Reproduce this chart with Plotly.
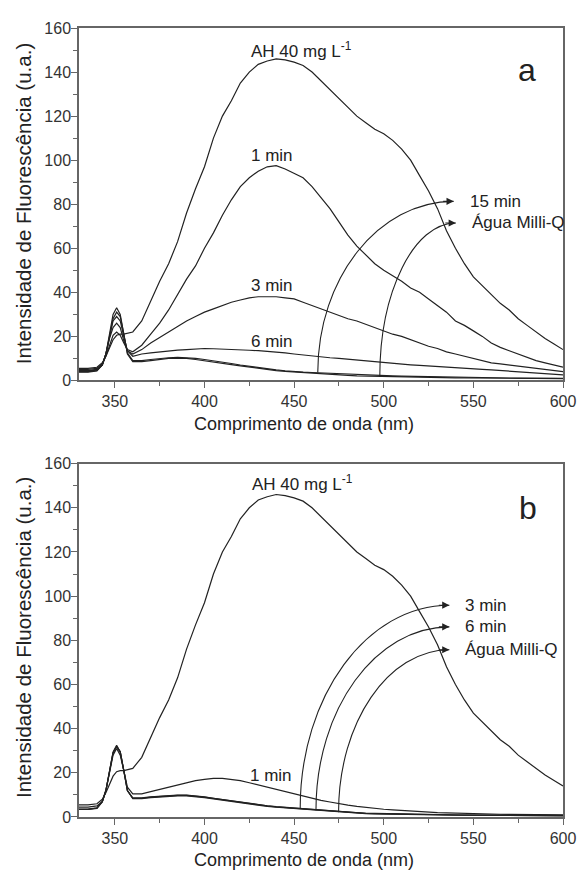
import plotly.graph_objects as go
from plotly.subplots import make_subplots

# ---------------- data ----------------
wavelength = [330, 335, 340, 343, 345, 347, 349, 351, 353, 355, 357, 360,
              365, 370, 375, 380, 385, 390, 395, 400, 405, 410, 415, 420, 425,
              430, 435, 440, 445, 450, 455, 460, 465, 470, 475, 480, 485, 490,
              495, 500, 505, 510, 515, 520, 525, 530, 535, 540, 545, 550, 555,
              560, 565, 570, 575, 580, 585, 590, 595, 600]

ah_40 = [5.5, 5.5, 6, 8, 11, 15, 18.5, 20.5, 21, 21, 21.5, 22,
         27, 36, 45, 53, 63, 76, 87, 97, 110, 120, 127, 135, 140,
         143.5, 145, 146, 145.5, 144.5, 143, 140, 136, 132, 128, 124, 120, 117,
         114, 112, 109, 105, 100, 93, 86, 78, 68, 60, 53, 47, 43,
         39, 35, 32, 28, 25, 22, 19, 16.5, 14]

a_1min = [5, 5, 5.5, 7.5, 11, 16, 20.5, 22, 20.5, 17, 14, 13,
          16, 21, 26, 32, 39, 46, 52, 60, 67, 75, 82, 88, 92,
          95, 97, 97.5, 96, 94, 92, 88, 83, 78, 72, 66, 61, 57,
          53, 50, 47.5, 45, 42, 40, 37, 34, 31, 27, 25, 22.5, 20,
          17, 15, 13.5, 12, 10.5, 9, 8, 7, 6]

a_3min = [4.5, 4.5, 5, 7, 12, 19, 24, 26, 24, 18, 13.5, 12,
          14, 17, 19.5, 22, 24.5, 27, 29, 31, 32.5, 34, 35.5, 36.5, 37.5,
          38, 38, 38, 37.5, 37, 35.5, 34, 32.5, 31, 29.5, 28, 27, 25.5,
          24, 22.5, 21, 20, 18.5, 17, 15.5, 14.5, 13, 12, 11, 10, 9,
          8, 7.5, 7, 6.3, 5.8, 5.3, 4.8, 4.4, 4]

a_6min = [4.2, 4.2, 4.8, 7, 12, 20, 27, 29, 27, 20, 13.5, 11,
          12, 12.5, 13, 13.5, 13.8, 14, 14.3, 14.5, 14.4, 14.3, 14.1, 14, 13.7,
          13.5, 13.2, 13, 12.5, 12, 11.5, 11, 10.6, 10.3, 10, 9.6, 9.2, 8.9,
          8.5, 8.2, 7.8, 7.5, 7.1, 6.8, 6.5, 6.2, 5.9, 5.6, 5.4, 5.2, 5,
          4.8, 4.5, 4.2, 3.9, 3.6, 3.3, 3, 2.7, 2.5]

a_15min = [4, 4, 4.5, 7, 12, 20, 28, 31, 29, 21, 12.5, 9,
           9, 9.5, 10, 10.3, 10.5, 10.3, 10, 9.5, 9, 8.4, 7.7, 7, 6.4,
           5.8, 5.3, 4.8, 4.4, 4, 3.8, 3.6, 3.4, 3.2, 3, 2.8, 2.6, 2.4,
           2.3, 2.2, 2.1, 2, 1.9, 1.8, 1.7, 1.6, 1.5, 1.4, 1.35, 1.3, 1.25,
           1.2, 1.15, 1.1, 1.05, 1, 1, 0.95, 0.9, 0.9]

a_milliq = [3.8, 3.8, 4.3, 7, 12, 21, 30, 33, 30, 21, 12, 8.5,
            8.5, 9, 9.5, 10, 10, 10, 9.5, 9, 8.5, 8, 7.2, 6.6, 6,
            5.5, 5, 4.5, 4.1, 3.8, 3.5, 3.2, 3, 2.7, 2.5, 2.3, 2.1, 2,
            1.8, 1.7, 1.6, 1.5, 1.45, 1.4, 1.35, 1.3, 1.25, 1.2, 1.15, 1.1, 1.05,
            1, 1, 0.95, 0.9, 0.9, 0.85, 0.85, 0.8, 0.8]

b_1min = [4.5, 4.5, 5, 7, 12, 20, 28, 31, 28, 21, 13.5, 10.5,
          10.5, 11.5, 12.5, 13.5, 14.5, 15.5, 16.5, 17, 17.5, 17.5, 17, 16.5, 15.5,
          14.5, 13.5, 12.3, 11.2, 10.2, 9.2, 8.3, 7.5, 6.8, 6, 5.4, 4.8, 4.3,
          3.9, 3.5, 3.2, 2.9, 2.6, 2.4, 2.2, 2, 1.85, 1.7, 1.6, 1.5, 1.4,
          1.3, 1.25, 1.2, 1.15, 1.1, 1.05, 1, 1, 1]

b_3min = [3.6, 3.6, 4.1, 7, 12, 21, 29, 32, 29.5, 21, 12, 8.7,
          8.7, 9.1, 9.4, 9.7, 9.9, 9.9, 9.6, 9.1, 8.5, 7.9, 7.3, 6.7, 6.1,
          5.6, 5.1, 4.7, 4.4, 4.1, 3.8, 3.4, 3.1, 2.7, 2.4, 2.1, 1.9, 1.7,
          1.6, 1.5, 1.4, 1.3, 1.2, 1.15, 1.1, 1.05, 1, 0.95, 0.9, 0.9, 0.85,
          0.85, 0.8, 0.8, 0.75, 0.75, 0.7, 0.7, 0.7, 0.7]

b_6min = [3.5, 3.5, 4, 7, 12, 21, 29, 32, 29.5, 21, 12, 8.5,
          8.5, 9, 9.3, 9.6, 9.8, 9.8, 9.5, 9, 8.4, 7.8, 7.2, 6.6, 6,
          5.5, 5, 4.6, 4.3, 4, 3.7, 3.3, 3, 2.6, 2.3, 2, 1.8, 1.6,
          1.5, 1.4, 1.3, 1.2, 1.15, 1.1, 1.05, 1, 0.95, 0.9, 0.85, 0.85, 0.8,
          0.8, 0.75, 0.75, 0.7, 0.7, 0.65, 0.65, 0.6, 0.6]

b_milliq = [3.4, 3.4, 3.9, 6.8, 12, 21, 29.5, 32.5, 29.5, 21, 12, 8.3,
            8.3, 8.8, 9.1, 9.4, 9.6, 9.6, 9.3, 8.8, 8.2, 7.6, 7, 6.4, 5.8,
            5.3, 4.8, 4.4, 4.1, 3.8, 3.5, 3.2, 2.9, 2.5, 2.2, 1.9, 1.7, 1.5,
            1.4, 1.3, 1.2, 1.1, 1.05, 1, 0.95, 0.9, 0.85, 0.8, 0.8, 0.75, 0.75,
            0.7, 0.7, 0.65, 0.65, 0.6, 0.6, 0.6, 0.55, 0.55]

x_ticks = [350, 400, 450, 500, 550, 600]
y_ticks = [0, 20, 40, 60, 80, 100, 120, 140, 160]

# arrow annotations (start on curve -> tip next to label)
a_arc_labels = ["15 min", "Água Milli-Q"]
a_arc_start_x = [463.2, 497.8]
a_arc_start_y = [3.6, 1.8]
a_arc_tip_x = [539.0, 540.2]
a_arc_tip_y = [81.3, 71.5]

b_arc_labels = ["3 min", "6 min", "Água Milli-Q"]
b_arc_start_x = [453.4, 462.2, 474.8]
b_arc_start_y = [4.0, 3.1, 2.2]
b_arc_tip_x = [536.6, 536.6, 536.6]
b_arc_tip_y = [95.9, 86.1, 75.7]

x_title = "Comprimento de onda (nm)"
y_title = "Intensidade de Fluorescência (u.a.)"

# ---------------- figure ----------------
LINE = "#222222"
AXC = "#666666"
TXT = "#222222"
FONT = "Liberation Sans, Arial, sans-serif"

fig = make_subplots(rows=2, cols=1, vertical_spacing=0.0)

for ys in [ah_40, a_1min, a_3min, a_6min, a_15min, a_milliq]:
    fig.add_trace(go.Scatter(x=wavelength, y=ys, mode="lines",
                             line=dict(color=LINE, width=1.2), showlegend=False),
                  row=1, col=1)
for ys in [ah_40, b_1min, b_3min, b_6min, b_milliq]:
    fig.add_trace(go.Scatter(x=wavelength, y=ys, mode="lines",
                             line=dict(color=LINE, width=1.2), showlegend=False),
                  row=2, col=1)

axis_common = dict(showline=True, linecolor=AXC, linewidth=1.5, mirror=True,
                   ticks="outside", ticklen=6, tickwidth=1.3, tickcolor=AXC,
                   showgrid=False, zeroline=False,
                   tickfont=dict(family=FONT, size=16, color="#333333"))

for r, dom in [(1, [0.5533, 1.0]), (2, [0.0, 0.4479])]:
    fig.update_xaxes(range=[330, 600], tickvals=x_ticks,
                     minor=dict(ticks="outside", ticklen=4, tickcolor=AXC, dtick=25, tick0=325),
                     row=r, col=1, **axis_common)
    fig.update_yaxes(range=[0, 160], tickvals=y_ticks, domain=dom,
                     minor=dict(ticks="outside", ticklen=4, tickcolor=AXC, dtick=10, tick0=0),
                     ticklabelstandoff=-3,
                     row=r, col=1, **axis_common)

annotations = []
shapes = []
K = 0.5523


def add_arcs(xref, yref, sx, sy, tx, ty, labels):
    for x0, y0, x1, y1, lab in zip(sx, sy, tx, ty, labels):
        c1 = (x0, y0 + K * (y1 - y0))
        c2 = (x1 - K * (x1 - x0), y1)
        path = f"M {x0},{y0} C {c1[0]},{c1[1]} {c2[0]},{c2[1]} {x1},{y1}"
        shapes.append(dict(type="path", path=path, xref=xref, yref=yref,
                           line=dict(color=LINE, width=1.1)))
        annotations.append(dict(x=x1, y=y1, xref=xref, yref=yref, text="",
                                showarrow=True, ax=-12, ay=0, arrowhead=2,
                                arrowsize=1.3, arrowwidth=1.1, arrowcolor=LINE,
                                standoff=0))
        annotations.append(dict(x=x1, y=y1, xref=xref, yref=yref, text=lab,
                                showarrow=False, xanchor="left", yanchor="middle",
                                xshift=14,
                                font=dict(family=FONT, size=17, color=TXT)))


add_arcs("x", "y", a_arc_start_x, a_arc_start_y, a_arc_tip_x, a_arc_tip_y, a_arc_labels)
add_arcs("x2", "y2", b_arc_start_x, b_arc_start_y, b_arc_tip_x, b_arc_tip_y, b_arc_labels)

txt = dict(family=FONT, size=17, color=TXT)
curve_labels = [
    ("x", "y", 424.7, 150, "AH 40 mg L<sup>-1</sup>", "left"),
    ("x", "y", 437.4, 102, "1 min", "center"),
    ("x", "y", 437.4, 43, "3 min", "center"),
    ("x", "y", 437.4, 17.5, "6 min", "center"),
    ("x2", "y2", 425.5, 151, "AH 40 mg L<sup>-1</sup>", "left"),
    ("x2", "y2", 437.0, 18.8, "1 min", "center"),
]
for xr, yr, x, y, t, anc in curve_labels:
    annotations.append(dict(x=x, y=y, xref=xr, yref=yr, text=t, showarrow=False,
                            xanchor=anc, yanchor="middle", font=txt))

annotations.append(dict(x=580.0, y=141, xref="x", yref="y", text="a", showarrow=False,
                        xanchor="center", yanchor="middle",
                        font=dict(family=FONT, size=32, color=TXT)))
annotations.append(dict(x=580.4, y=140, xref="x2", yref="y2", text="b", showarrow=False,
                        xanchor="center", yanchor="middle",
                        font=dict(family=FONT, size=32, color=TXT)))

# axis titles placed as paper annotations
for yx in [0.4981, -0.054]:
    annotations.append(dict(x=0.4654, y=yx, xref="paper", yref="paper", text=x_title,
                            showarrow=False, xanchor="center", yanchor="middle",
                            font=dict(family=FONT, size=18, color=TXT)))
for yy in [0.7779, 0.228]:
    annotations.append(dict(x=-0.1159, y=yy, xref="paper", yref="paper", text=y_title,
                            showarrow=False, xanchor="center", yanchor="middle",
                            textangle=-90,
                            font=dict(family=FONT, size=20.5, color=TXT)))

# page body has an 8px default margin: figure is sized/margined to compensate
fig.update_layout(width=580, height=866,
                  margin=dict(l=71, r=17, t=12, b=57),
                  paper_bgcolor="white", plot_bgcolor="white",
                  annotations=annotations, shapes=shapes,
                  font=dict(family=FONT))

fig.write_html("out.html")
